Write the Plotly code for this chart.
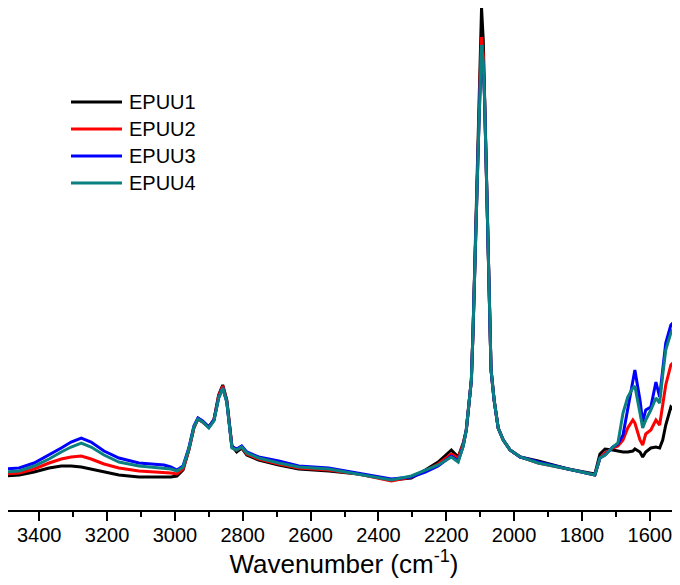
import plotly.graph_objects as go

wavenumber = [3497, 3459, 3415, 3371, 3335, 3306, 3276, 3247, 3209, 3165,
              3106, 3032, 3012, 2994, 2976, 2959, 2944, 2932, 2918, 2900,
              2885, 2871, 2859, 2847, 2832, 2818, 2803, 2788, 2753, 2694,
              2635, 2547, 2459, 2362, 2303, 2262, 2224, 2185, 2165, 2150,
              2141, 2132, 2126, 2121, 2118, 2112, 2106, 2100, 2096, 2091,
              2087, 2082, 2076, 2074, 2068, 2059, 2047, 2032, 2012, 1982,
              1929, 1841, 1762, 1747, 1732, 1709, 1694, 1679, 1665, 1650,
              1644, 1629, 1621, 1612, 1597, 1582, 1571, 1562, 1553, 1538,
              1529, 1515]

epuu1 = [34, 35, 38, 42, 44, 44, 43, 41, 38, 35,
         33, 33, 33, 34, 40, 60, 82, 91, 88, 83,
         90, 115, 125, 110, 64, 58, 62, 55, 50, 45,
         41, 39, 36, 30, 32, 40, 48, 60, 53, 67,
         80, 110, 130, 180, 220, 290, 360, 450, 502, 470,
         415, 340, 260, 210, 140, 110, 82, 70, 60, 53,
         49, 41, 36, 56, 61, 60, 59, 58, 58, 59,
         61, 58, 53, 58, 62, 63, 62, 70, 85, 103,
         100, 89]

epuu2 = [36, 37, 41, 47, 51, 53, 54, 51, 46, 42,
         39, 38, 37, 36, 41, 60, 82, 91, 88, 83,
         90, 114, 124, 109, 64, 60, 63, 56, 51, 46,
         42, 40, 36, 29, 33, 39, 46, 56, 52, 66,
         80, 110, 130, 180, 220, 290, 360, 435, 473, 455,
         410, 340, 260, 210, 140, 110, 82, 70, 60, 53,
         47, 41, 35, 52, 57, 62, 64, 70, 82, 90,
         87, 70, 65, 76, 80, 90, 85, 105, 125, 145,
         148, 137]

epuu3 = [41, 42, 47, 55, 62, 68, 72, 68, 59, 52,
         47, 45, 43, 40, 44, 62, 84, 92, 89, 83,
         90, 112, 122, 108, 63, 61, 64, 58, 53, 49,
         44, 42, 37, 31, 33, 38, 44, 54, 49, 64,
         80, 110, 130, 180, 220, 290, 360, 425, 462, 445,
         410, 340, 260, 210, 140, 110, 82, 70, 60, 53,
         48, 41, 35, 52, 55, 63, 66, 75, 102, 130,
         140, 110, 88, 100, 103, 128, 113, 140, 167, 185,
         188, 178]

epuu4 = [38, 39, 44, 51, 58, 63, 67, 63, 55, 48,
         44, 42, 41, 39, 43, 61, 83, 91, 88, 82,
         89, 112, 122, 108, 62, 60, 63, 57, 52, 47,
         43, 41, 36, 30, 34, 40, 45, 53, 48, 64,
         80, 110, 130, 180, 220, 290, 360, 425, 465, 448,
         410, 340, 260, 210, 140, 110, 82, 70, 60, 53,
         47, 41, 35, 52, 55, 63, 67, 97, 113, 122,
         124, 97, 82, 90, 100, 112, 107, 135, 160, 177,
         182, 170]

names = ["EPUU1", "EPUU2", "EPUU3", "EPUU4"]
colors = ["#000000", "#ff0000", "#0000ff", "#0a8080"]
series = [epuu1, epuu2, epuu3, epuu4]

# the page places the figure 8 px in from the top-left corner
W, H = 680, 585
ML, MR, MT, MB = 0, 8, 0, 83
PW, PH = W - ML - MR, H - MT - MB

fig = go.Figure()
for name, col, vals in zip(names, colors, series):
    fig.add_trace(go.Scatter(x=wavenumber, y=vals, mode="lines", name=name,
                             line=dict(color=col, width=3), showlegend=False))

# manual legend (long line samples as in the reference); figure-pixel positions
leg_x0, leg_x1, leg_tx = 63, 114, 119
leg_rows = [94, 121, 148, 175]
shapes, annotations = [], []
for name, col, py in zip(names, colors, leg_rows):
    yp = 1 - (py - MT) / PH
    shapes.append(dict(type="line", xref="paper", yref="paper",
                       x0=(leg_x0 - ML) / PW, x1=(leg_x1 - ML) / PW, y0=yp, y1=yp,
                       line=dict(color=col, width=2.8)))
    annotations.append(dict(text=name, xref="paper", yref="paper",
                            x=(leg_tx - ML) / PW, y=yp, xanchor="left", yanchor="middle",
                            showarrow=False, font=dict(size=20, color="#000000")))

fig.update_layout(
    width=W, height=H,
    margin=dict(l=ML, r=MR, t=MT, b=MB),
    paper_bgcolor="white", plot_bgcolor="white",
    font=dict(family="Liberation Sans, Arial, sans-serif", color="#000000"),
    shapes=shapes, annotations=annotations,
    xaxis=dict(range=[3492, 1511], showgrid=False, zeroline=False,
               showline=True, linecolor="#000000", linewidth=1.5,
               ticks="outside", ticklen=9, tickwidth=1.5, tickcolor="#000000",
               tick0=1600, dtick=200, tickfont=dict(size=20), ticklabelstandoff=-3,
               minor=dict(ticks="outside", ticklen=5, tickwidth=1.5,
                          tickcolor="#000000", dtick=100, tick0=1600),
               title=dict(text="Wavenumber (cm<sup>-1</sup>)", font=dict(size=26),
                          standoff=4)),
    yaxis=dict(visible=False, range=[0, 502]),
)

fig.write_html("out.html")
